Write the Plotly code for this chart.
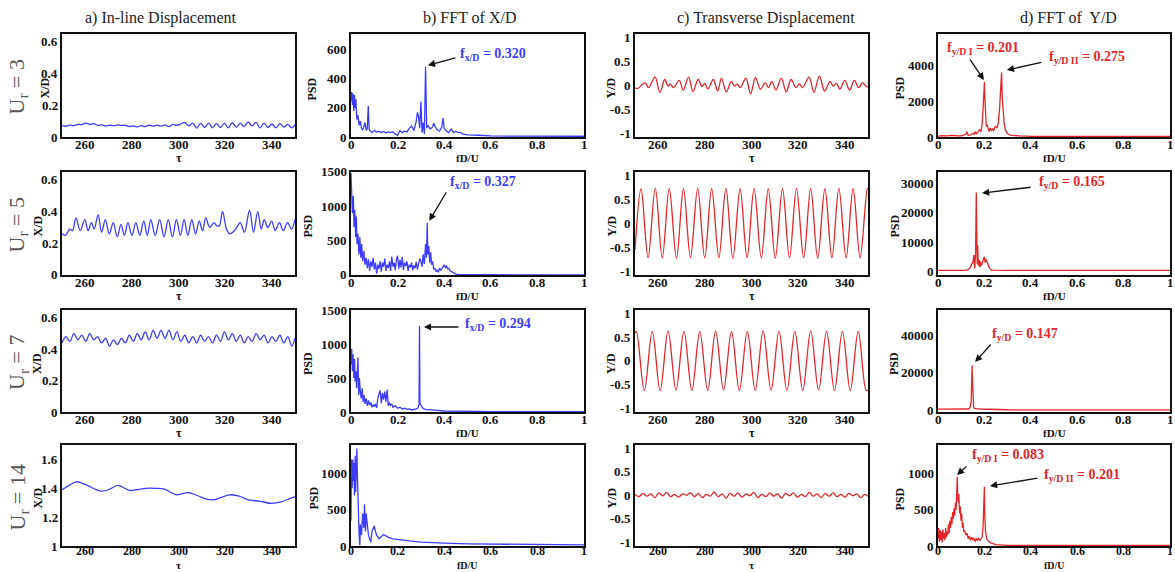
import plotly.graph_objects as go

# ---------------- data ----------------
tau_half = [250, 251.7, 253.4, 255.1, 256.8, 258.5, 260.2, 261.9, 263.6, 265.3,
            267.0, 268.7, 270.4, 272.1, 273.8, 275.5, 277.2, 278.9, 280.6, 282.3,
            284.0, 285.7, 287.4, 289.1, 290.8, 292.5, 294.2, 295.9, 297.6, 299.3,
            301.0, 302.7, 304.4, 306.1, 307.8, 309.5, 311.2, 312.9, 314.6, 316.3,
            318.0, 319.7, 321.4, 323.1, 324.8, 326.5, 328.2, 329.9, 331.6, 333.3,
            335.0, 336.7, 338.4, 340.1, 341.8, 343.5, 345.2, 346.9, 348.6, 350.0]

xd_ur3 = [0.072, 0.068, 0.075, 0.072, 0.080, 0.078, 0.088, 0.080, 0.084, 0.074,
          0.077, 0.070, 0.074, 0.072, 0.076, 0.073, 0.074, 0.066, 0.070, 0.064,
          0.072, 0.066, 0.074, 0.068, 0.075, 0.068, 0.077, 0.066, 0.080, 0.074,
          0.082, 0.092, 0.070, 0.088, 0.056, 0.086, 0.060, 0.088, 0.058, 0.084,
          0.060, 0.088, 0.058, 0.090, 0.062, 0.086, 0.066, 0.096, 0.070, 0.092,
          0.058, 0.088, 0.060, 0.082, 0.058, 0.084, 0.062, 0.078, 0.058, 0.078]

tau_x5 = [250, 251.5, 253.3, 254.5, 256.0, 257.8, 259.8, 261.2, 262.6, 263.8,
          265.5, 267.0, 268.6, 270.3, 272.0, 273.7, 275.3, 276.8, 278.3, 280.0,
          281.7, 283.4, 285.1, 286.6, 288.1, 290.0, 291.9, 293.8, 295.6, 297.4,
          299.1, 300.8, 302.4, 304.0, 305.7, 307.3, 308.9, 310.3, 311.7, 313.4,
          315.2, 316.5, 317.5, 318.9, 320.6, 322.0, 324.0, 325.0, 326.5, 328.3,
          330.5, 332.2, 334.0, 335.5, 336.8, 338.3, 340.0, 341.5, 343.3, 345.0,
          346.8, 348.5, 350]
xd_ur5 = [0.26, 0.25, 0.29, 0.28, 0.36, 0.28, 0.35, 0.28, 0.33, 0.29,
          0.38, 0.27, 0.35, 0.26, 0.33, 0.24, 0.32, 0.25, 0.33, 0.25,
          0.33, 0.25, 0.34, 0.25, 0.35, 0.25, 0.35, 0.24, 0.35, 0.24,
          0.35, 0.25, 0.35, 0.25, 0.35, 0.26, 0.34, 0.28, 0.36, 0.30,
          0.33, 0.31, 0.31, 0.40, 0.29, 0.26, 0.28, 0.30, 0.33, 0.27,
          0.41, 0.27, 0.40, 0.29, 0.35, 0.30, 0.34, 0.28, 0.33, 0.28,
          0.33, 0.29, 0.35]

xd_ur7 = [0.44, 0.48, 0.45, 0.50, 0.46, 0.49, 0.45, 0.50, 0.46, 0.48,
          0.44, 0.47, 0.42, 0.46, 0.43, 0.47, 0.44, 0.49, 0.45, 0.50,
          0.46, 0.51, 0.46, 0.52, 0.47, 0.52, 0.47, 0.52, 0.46, 0.51,
          0.45, 0.49, 0.44, 0.48, 0.44, 0.49, 0.45, 0.48, 0.44, 0.49,
          0.45, 0.51, 0.46, 0.50, 0.45, 0.49, 0.44, 0.48, 0.45, 0.50,
          0.46, 0.49, 0.44, 0.48, 0.45, 0.49, 0.44, 0.48, 0.42, 0.47]

tau_x14 = [250, 253, 256, 258, 261, 264, 267, 270, 274, 277, 279, 282, 286, 290, 294,
           299, 304, 308, 312, 315, 318, 322, 326, 330, 335, 340, 344, 348, 350]
xd_ur14 = [1.39, 1.42, 1.445, 1.44, 1.42, 1.395, 1.38, 1.39, 1.42, 1.40, 1.385, 1.39, 1.40, 1.40, 1.395,
           1.355, 1.37, 1.35, 1.325, 1.32, 1.335, 1.355, 1.345, 1.32, 1.31, 1.295, 1.305, 1.33, 1.34]

tau_y3 = [250, 251, 254.4, 255.8, 258.6, 260.7, 262.8, 264.2, 265.1, 266.5,
          269, 270.7, 273, 274.9, 277.1, 278.8, 279.9, 281.3, 283.6, 285.5,
          287.1, 289.2, 291.3, 292.7, 293.8, 295.2, 297.6, 299.6, 301.7, 303.8,
          305.9, 307.3, 308.7, 310.5, 312.8, 314.9, 317, 319.1, 320.5, 321.9,
          324.7, 326.8, 329.1, 331.4, 333.7, 335.1, 336.5, 337.9, 340, 342.1,
          344.1, 346, 347.6, 349.4, 350]
yd_ur3 = [-0.05, -0.07, 0.05, -0.05, 0.17, -0.15, 0.12, -0.02, 0.03, -0.05,
          0.1, -0.1, 0.17, -0.13, 0.12, -0.03, 0.04, -0.08, 0.12, -0.12,
          0.15, -0.14, 0.08, -0.02, 0.03, -0.05, 0.15, -0.18, 0.16, -0.08,
          0.05, -0.05, 0.08, -0.1, 0.15, -0.14, 0.12, -0.05, 0.03, -0.05,
          0.17, -0.15, 0.19, -0.12, 0.08, -0.02, 0.04, -0.08, 0.1, -0.1,
          0.1, -0.05, 0.05, -0.03, -0.04]

tau_y5 = [250, 252.6, 255.6, 258.7, 261.7, 264.7, 267.8, 270.8, 273.8, 276.9,
          279.9, 282.9, 286.0, 289.0, 292.0, 295.1, 298.1, 301.1, 304.2, 307.2,
          310.2, 313.3, 316.3, 319.3, 322.4, 325.4, 328.4, 331.5, 334.5, 337.5,
          340.6, 343.6, 346.6, 349.7, 350]
yd_ur5 = [-0.55, 0.72, -0.72, 0.73, -0.72, 0.72, -0.73, 0.72, -0.72, 0.73,
          -0.72, 0.72, -0.72, 0.73, -0.73, 0.72, -0.72, 0.73, -0.72, 0.72,
          -0.73, 0.72, -0.72, 0.73, -0.72, 0.72, -0.73, 0.72, -0.72, 0.73,
          -0.72, 0.72, -0.72, 0.72, 0.70]

tau_y7 = [250, 250.6, 254.0, 257.4, 260.8, 264.2, 267.6, 271.0, 274.4, 277.8,
          281.2, 284.6, 288.0, 291.4, 294.8, 298.2, 301.6, 305.0, 308.4, 311.8,
          315.2, 318.6, 322.0, 325.4, 328.8, 332.2, 335.6, 339.0, 342.4, 345.8,
          349.2, 350]
yd_ur7 = [0.58, 0.62, -0.63, 0.62, -0.63, 0.63, -0.62, 0.62, -0.63, 0.62,
          -0.63, 0.63, -0.62, 0.62, -0.63, 0.62, -0.63, 0.63, -0.62, 0.62,
          -0.63, 0.62, -0.63, 0.63, -0.62, 0.62, -0.63, 0.62, -0.63, 0.62,
          -0.63, -0.61]

yd_ur14 = [0.02, -0.03, 0.04, -0.02, 0.03, -0.05, 0.05, -0.01, 0.06, -0.03,
           0.02, -0.04, 0.03, 0.00, 0.05, -0.03, 0.04, -0.05, 0.02, -0.02,
           0.07, -0.03, 0.03, -0.06, 0.04, -0.02, 0.05, -0.04, 0.03, -0.01,
           0.06, -0.05, 0.02, -0.03, 0.05, -0.02, 0.03, -0.06, 0.04, -0.01,
           0.05, -0.04, 0.02, -0.03, 0.06, -0.02, 0.03, -0.05, 0.04, -0.02,
           0.05, -0.03, 0.02, -0.04, 0.04, -0.01, 0.03, -0.05, 0.02, -0.02]

# FFT spectra
f_x3 = [0, 0.003, 0.006, 0.009, 0.012, 0.015, 0.018, 0.021, 0.025, 0.03,
        0.035, 0.04, 0.045, 0.05, 0.055, 0.06, 0.065, 0.07, 0.074, 0.078,
        0.085, 0.09, 0.1, 0.11, 0.12, 0.13, 0.14, 0.15, 0.16, 0.17,
        0.18, 0.19, 0.2, 0.21, 0.22, 0.23, 0.24, 0.25, 0.26, 0.27,
        0.28, 0.285, 0.29, 0.295, 0.3, 0.305, 0.31, 0.315, 0.32, 0.325,
        0.33, 0.34, 0.35, 0.355, 0.36, 0.37, 0.38, 0.39, 0.395, 0.4,
        0.41, 0.42, 0.43, 0.44, 0.45, 0.46, 0.47, 0.48, 0.5, 0.55,
        0.6, 0.7, 0.8, 0.9, 1.0]
psd_x3 = [250, 310, 220, 300, 180, 290, 200, 260, 120, 150,
          80, 110, 60, 50, 70, 100, 45, 60, 215, 50,
          40, 30, 45, 35, 40, 30, 38, 28, 35, 30,
          35, 25, 10, 45, 30, 40, 35, 60, 75, 45,
          110, 170, 140, 60, 245, 30, 100, 20, 485, 60,
          80, 55, 70, 95, 75, 50, 40, 70, 130, 60,
          40, 30, 55, 30, 40, 30, 32, 20, 15, 12,
          8, 6, 5, 5, 5]

f_x5 = [0, 0.003, 0.006, 0.01, 0.013, 0.016, 0.02, 0.023, 0.026, 0.03,
        0.034, 0.038, 0.042, 0.046, 0.05, 0.055, 0.06, 0.065, 0.07, 0.075,
        0.08, 0.085, 0.09, 0.095, 0.1, 0.105, 0.11, 0.115, 0.12, 0.125,
        0.13, 0.135, 0.14, 0.145, 0.15, 0.155, 0.16, 0.165, 0.17, 0.175,
        0.18, 0.185, 0.19, 0.195, 0.2, 0.205, 0.21, 0.215, 0.22, 0.225,
        0.23, 0.235, 0.24, 0.245, 0.25, 0.255, 0.26, 0.265, 0.27, 0.275,
        0.28, 0.285, 0.29, 0.295, 0.3, 0.305, 0.31, 0.315, 0.32, 0.324,
        0.327, 0.33, 0.334, 0.338, 0.342, 0.346, 0.35, 0.355, 0.36, 0.365,
        0.37, 0.375, 0.38, 0.385, 0.39, 0.395, 0.4, 0.405, 0.41, 0.415,
        0.42, 0.425, 0.43, 0.435, 0.44, 0.445, 0.45, 0.46, 0.48, 0.5,
        0.55, 0.6, 0.7, 0.8, 0.9, 1.0]
psd_x5 = [1480, 1280, 900, 1150, 700, 950, 550, 850, 450, 600,
          300, 550, 250, 450, 200, 350, 150, 250, 100, 230,
          60, 200, 120, 250, 80, 180, 20, 150, 90, 200,
          50, 180, 120, 240, 60, 150, 100, 200, 60, 270,
          120, 180, 70, 230, 280, 90, 220, 110, 260, 70,
          180, 130, 200, 60, 150, 110, 180, 70, 140, 100,
          190, 80, 150, 240, 200, 120, 300, 160, 450, 250,
          760, 300, 420, 180, 330, 150, 200, 80, 100, 50,
          70, 40, 100, 70, 90, 120, 150, 110, 130, 90,
          100, 60, 50, 35, 30, 20, 12, 8, 6, 5,
          4, 4, 3, 3, 3, 3]

f_x7 = [0, 0.003, 0.006, 0.009, 0.012, 0.015, 0.018, 0.021, 0.024, 0.027,
        0.03, 0.033, 0.036, 0.04, 0.044, 0.048, 0.052, 0.056, 0.06, 0.065,
        0.07, 0.075, 0.08, 0.085, 0.09, 0.095, 0.1, 0.105, 0.11, 0.115,
        0.12, 0.125, 0.13, 0.135, 0.14, 0.145, 0.15, 0.155, 0.16, 0.165,
        0.17, 0.175, 0.18, 0.19, 0.2, 0.21, 0.22, 0.23, 0.24, 0.25,
        0.26, 0.27, 0.28, 0.288, 0.292, 0.294, 0.296, 0.3, 0.305, 0.31,
        0.32, 0.33, 0.35, 0.37, 0.4, 0.45, 0.5, 0.6, 0.8, 1.0]
psd_x7 = [700, 930, 600, 850, 500, 780, 450, 600, 350, 500,
          800, 250, 500, 300, 200, 350, 150, 250, 120, 200,
          90, 170, 100, 140, 70, 110, 80, 120, 60, 200,
          250, 320, 130, 280, 180, 300, 150, 330, 90, 140,
          100, 120, 70, 90, 55, 70, 45, 55, 40, 45,
          30, 35, 45, 60, 120, 1270, 120, 100, 70, 50,
          40, 35, 25, 25, 15, 12, 10, 6, 5, 5]

f_x14 = [0, 0.002, 0.005, 0.008, 0.01, 0.012, 0.015, 0.018, 0.02, 0.022,
         0.025, 0.028, 0.03, 0.032, 0.035, 0.038, 0.04, 0.045, 0.05, 0.055,
         0.058, 0.062, 0.065, 0.07, 0.075, 0.08, 0.085, 0.09, 0.095, 0.1,
         0.105, 0.11, 0.12, 0.13, 0.14, 0.15, 0.16, 0.18, 0.2, 0.25,
         0.3, 0.35, 0.4, 0.5, 0.6, 0.7, 0.8, 1.0]
psd_x14 = [350, 1200, 800, 1200, 900, 1150, 700, 1250, 750, 1150,
           1350, 900, 600, 400, 150, 10, 300, 150, 450, 250,
           580, 200, 450, 300, 150, 100, 50, 200, 250, 280,
           200, 150, 100, 130, 160, 140, 120, 100, 90, 70,
           55, 45, 40, 30, 25, 20, 18, 15]

f_y3 = [0, 0.02, 0.04, 0.06, 0.08, 0.1, 0.11, 0.12, 0.125, 0.13,
        0.14, 0.15, 0.155, 0.16, 0.165, 0.17, 0.175, 0.18, 0.185, 0.19,
        0.194, 0.197, 0.2, 0.202, 0.205, 0.208, 0.212, 0.216, 0.22, 0.225,
        0.23, 0.235, 0.24, 0.245, 0.25, 0.255, 0.26, 0.265, 0.27, 0.274,
        0.277, 0.28, 0.285, 0.29, 0.295, 0.3, 0.31, 0.32, 0.35, 0.4,
        0.5, 0.6, 0.8, 1.0]
psd_y3 = [50, 80, 60, 90, 70, 60, 100, 150, 290, 100,
          120, 200, 150, 300, 180, 250, 350, 400, 300, 700,
          1500, 2500, 3100, 2200, 1400, 600, 700, 400, 300, 500,
          350, 450, 350, 550, 600, 500, 800, 1500, 2500, 3650,
          2200, 1500, 800, 400, 300, 200, 100, 80, 60, 40,
          30, 30, 30, 30]

f_y5 = [0, 0.05, 0.1, 0.12, 0.13, 0.135, 0.14, 0.145, 0.15, 0.153,
        0.155, 0.158, 0.16, 0.162, 0.165, 0.167, 0.169, 0.171, 0.174, 0.177,
        0.18, 0.183, 0.186, 0.19, 0.193, 0.196, 0.2, 0.203, 0.206, 0.21,
        0.215, 0.22, 0.225, 0.23, 0.24, 0.25, 0.3, 0.4, 0.6, 1.0]
psd_y5 = [400, 350, 300, 400, 600, 1000, 1500, 2500, 3000, 4500,
          5600, 1000, 3500, 6000, 27000, 11000, 2500, 9000, 2000, 4000,
          1500, 3500, 2000, 2500, 3800, 4500, 5000, 3000, 4300, 3500,
          2000, 1500, 800, 500, 450, 400, 350, 350, 350, 350]

f_y7 = [0, 0.05, 0.1, 0.12, 0.13, 0.135, 0.14, 0.143, 0.145, 0.147,
        0.149, 0.151, 0.154, 0.157, 0.16, 0.17, 0.18, 0.2, 0.25, 0.3,
        0.4, 0.6, 0.8, 1.0]
psd_y7 = [500, 450, 400, 500, 600, 900, 2000, 5000, 12000, 24000,
          14000, 5000, 1500, 900, 800, 700, 600, 500, 300, 200,
          150, 150, 150, 150]

f_y14 = [0, 0.003, 0.006, 0.009, 0.012, 0.015, 0.018, 0.021, 0.024, 0.027,
         0.03, 0.033, 0.036, 0.039, 0.042, 0.045, 0.048, 0.051, 0.054, 0.057,
         0.06, 0.063, 0.066, 0.069, 0.072, 0.075, 0.078, 0.081, 0.083, 0.085,
         0.088, 0.09, 0.093, 0.096, 0.099, 0.102, 0.105, 0.108, 0.111, 0.115,
         0.12, 0.125, 0.13, 0.135, 0.14, 0.145, 0.15, 0.155, 0.16, 0.165,
         0.17, 0.175, 0.18, 0.185, 0.19, 0.194, 0.197, 0.2, 0.202, 0.205,
         0.21, 0.22, 0.23, 0.25, 0.3, 0.4, 0.6, 0.8, 1.0]
psd_y14 = [100, 250, 60, 220, 80, 200, 50, 230, 100, 180,
           80, 250, 120, 200, 150, 300, 180, 350, 250, 400,
           300, 470, 380, 520, 420, 600, 500, 700, 960, 650,
           600, 720, 450, 550, 350, 450, 250, 320, 200, 220,
           150, 180, 100, 140, 80, 120, 90, 110, 60, 100,
           80, 110, 70, 100, 120, 250, 500, 820, 400, 200,
           100, 60, 40, 20, 10, 10, 10, 10, 10]

row_labels = ["3", "5", "7", "14"]
col_titles = ["a) In-line Displacement", "b) FFT of X/D", "c) Transverse Displacement", "d) FFT of  Y/D"]

tick_tau = [260, 280, 300, 320, 340]
tick_tau_txt = ["260", "280", "300", "320", "340"]
tick_f = [0, 0.2, 0.4, 0.6, 0.8, 1]
tick_f_txt = ["0", "0.2", "0.4", "0.6", "0.8", "1"]

# ---------------- layout geometry ----------------
W, H = 1175, 572
col_px = [(62, 295), (351, 584), (635, 868), (938, 1170)]
row_px = [(34, 137), (172, 275), (310, 412), (445, 546)]
xtick_gap = [7, 7, 7, 5]
xtick_size = [13, 13, 13, 12]
BLUE = "#3c3cff"
RED = "#e3262b"
SERIF = "Liberation Serif"

def px(x):
    return x / W

def py(y):
    return 1 - y / H

fig = go.Figure()

series = [
    [(tau_half, xd_ur3, BLUE, "spline"), (f_x3, psd_x3, BLUE, "linear"),
     (tau_y3, yd_ur3, RED, "spline"), (f_y3, psd_y3, RED, "linear")],
    [(tau_x5, xd_ur5, BLUE, "spline"), (f_x5, psd_x5, BLUE, "linear"),
     (tau_y5, yd_ur5, RED, "spline"), (f_y5, psd_y5, RED, "linear")],
    [(tau_half, xd_ur7, BLUE, "spline"), (f_x7, psd_x7, BLUE, "linear"),
     (tau_y7, yd_ur7, RED, "spline"), (f_y7, psd_y7, RED, "linear")],
    [(tau_x14, xd_ur14, BLUE, "spline"), (f_x14, psd_x14, BLUE, "linear"),
     (tau_half, yd_ur14, RED, "spline"), (f_y14, psd_y14, RED, "linear")],
]

ycfg = [
    [([0, 0.65], [0, 0.2, 0.4, 0.6], ["0", "0.2", "0.4", "0.6"]),
     ([0, 710], [0, 200, 400, 600], ["0", "200", "400", "600"]),
     ([-1.08, 1.07], [-1, -0.5, 0, 0.5, 1], ["-1", "-0.5", "0", "0.5", "1"]),
     ([0, 5800], [0, 2000, 4000], ["0", "2000", "4000"])],
    [([0, 0.65], [0, 0.2, 0.4, 0.6], ["0", "0.2", "0.4", "0.6"]),
     ([0, 1500], [0, 500, 1000, 1500], ["0", "500", "1000", "1500"]),
     ([-1.08, 1.07], [-1, -0.5, 0, 0.5, 1], ["-1", "-0.5", "0", "0.5", "1"]),
     ([-1200, 34000], [0, 10000, 20000, 30000], ["0", "10000", "20000", "30000"])],
    [([0, 0.65], [0, 0.2, 0.4, 0.6], ["0", "0.2", "0.4", "0.6"]),
     ([0, 1500], [0, 500, 1000, 1500], ["0", "500", "1000", "1500"]),
     ([-1.08, 1.07], [-1, -0.5, 0, 0.5, 1], ["-1", "-0.5", "0", "0.5", "1"]),
     ([-1000, 53500], [0, 20000, 40000], ["0", "20000", "40000"])],
    [([1, 1.7], [1, 1.2, 1.4, 1.6], ["1", "1.2", "1.4", "1.6"]),
     ([0, 1400], [0, 500, 1000], ["0", "500", "1000"]),
     ([-1.08, 1.07], [-1, -0.5, 0, 0.5, 1], ["-1", "-0.5", "0", "0.5", "1"]),
     ([0, 1400], [0, 500, 1000], ["0", "500", "1000"])],
]
ytitles = ["X/D", "PSD", "Y/D", "PSD"]
xtitles = ["\u03c4", "fD/U", "\u03c4", "fD/U"]
ytitle_x = [[45, 312, 611, 900],
            [37, 307, 611, 894],
            [37, 308, 611, 894],
            [37, 313, 611, 899]]

annotations = []

for r in range(4):
    for c in range(4):
        n = r * 4 + c + 1
        sfx = "" if n == 1 else str(n)
        xs, ys, color, shape = series[r][c]
        fig.add_trace(go.Scatter(x=xs, y=ys, mode="lines",
                                 line=dict(color=color, width=1.3, shape=shape),
                                 xaxis="x" + sfx, yaxis="y" + sfx, showlegend=False,
                                 hoverinfo="skip"))
        x0, x1 = col_px[c]
        y0, y1 = row_px[r]
        if c in (0, 2):
            xr, xtv, xtt = [250, 350], tick_tau, tick_tau_txt
        else:
            xr, xtv, xtt = [0, 1], tick_f, tick_f_txt
        yr, ytv, ytt = ycfg[r][c]
        common = dict(showline=True, mirror=True, linecolor="#111", linewidth=1.5,
                      showgrid=False, zeroline=False, ticks="", showticklabels=False,
                      fixedrange=True)
        fig.layout["xaxis" + sfx] = dict(domain=[px(x0), px(x1)], range=xr,
                                         tickvals=xtv, anchor="y" + sfx, **common)
        fig.layout["yaxis" + sfx] = dict(domain=[py(y1), py(y0)], range=yr,
                                         tickvals=ytv, anchor="x" + sfx, **common)
        # bold tick labels placed on the axes' own scales
        for v, t in zip(xtv, xtt):
            annotations.append(dict(xref="x" + sfx, yref="paper", x=v,
                                    y=py(y1 + xtick_gap[r]),
                                    text="<b>%s</b>" % t, showarrow=False,
                                    font=dict(family=SERIF, size=xtick_size[r], color="#111"),
                                    borderpad=0, xanchor="center", yanchor="middle"))
        for v, t in zip(ytv, ytt):
            annotations.append(dict(xref="paper", yref="y" + sfx, x=px(x0 - 3), y=v,
                                    text="<b>%s</b>" % t, showarrow=False,
                                    font=dict(family=SERIF, size=13, color="#111"),
                                    borderpad=0, xanchor="right", yanchor="middle"))
        # axis titles
        annotations.append(dict(xref="paper", yref="paper", x=px(ytitle_x[r][c]),
                                y=py((y0 + y1) / 2 + 3), text="<b>%s</b>" % ytitles[c],
                                textangle=-90, showarrow=False, borderpad=0,
                                font=dict(family=SERIF, size=12, color="#111"),
                                xanchor="center", yanchor="middle"))
        if r < 3:
            xt = dict(y=py(y1 + 21), yanchor="middle",
                      size=12 if c in (0, 2) else 11)
        else:
            xt = dict(y=0, yanchor="bottom", size=11 if c in (0, 2) else 10)
        annotations.append(dict(xref="paper", yref="paper", x=px((x0 + x1) / 2),
                                y=xt["y"], text="<b>%s</b>" % xtitles[c],
                                showarrow=False, borderpad=0,
                                font=dict(family=SERIF, size=xt["size"], color="#111"),
                                xanchor="center", yanchor=xt["yanchor"]))
    y0, y1 = row_px[r]
    annotations.append(dict(xref="paper", yref="paper", x=px(18), y=py((y0 + y1) / 2 + 2),
                            text="U<sub>r</sub> = " + row_labels[r], textangle=-90,
                            showarrow=False, font=dict(family=SERIF, size=22, color="#555"),
                            xanchor="center", yanchor="middle"))

title_cx = [161, 470, 766, 1068]
for c in range(4):
    annotations.append(dict(xref="paper", yref="paper", x=px(title_cx[c]), y=py(18),
                            text=col_titles[c], showarrow=False,
                            font=dict(family=SERIF, size=16, color="#222"),
                            xanchor="center", yanchor="middle"))

# peak annotations: (axis suffix, head x, head y, ax, ay, text x, text y, text, colour)
peaks = [
    ("2", 0.33, 494, 29, -8, 0.459, 571, "f<sub>x/D</sub> = 0.320", BLUE),
    ("6", 0.336, 790, 18, -30, 0.416, 1340, "f<sub>x/D</sub> = 0.327", BLUE),
    ("10", 0.313, 1250, 36, 0, 0.48, 1280, "f<sub>x/D</sub> = 0.294", BLUE),
    ("4", 0.198, 3210, -15, -22, 0.03, 5010, "f<sub>y/D I</sub> = 0.201", RED),
    ("4", 0.297, 3770, 36, -8, 0.47, 4500, "f<sub>y/D II</sub> = 0.275", RED),
    ("8", 0.19, 26800, 50, -6, 0.427, 30240, "f<sub>y/D</sub> = 0.165", RED),
    ("12", 0.16, 25700, 17, -19, 0.224, 40676, "f<sub>y/D</sub> = 0.147", RED),
    ("16", 0.082, 984, 11, -10, 0.138, 1261, "f<sub>y/D I</sub> = 0.083", RED),
    ("16", 0.224, 832, 49, -8, 0.448, 984, "f<sub>y/D II</sub> = 0.201", RED),
]
for sfx, hx, hy, ax, ay, tx, ty, txt, col in peaks:
    annotations.append(dict(xref="x" + sfx, yref="y" + sfx, x=hx, y=hy, ax=ax, ay=ay,
                            text="", showarrow=True, arrowhead=2, arrowsize=1.1,
                            arrowwidth=1.3, arrowcolor="#111", standoff=0))
    annotations.append(dict(xref="x" + sfx, yref="y" + sfx, x=tx, y=ty,
                            text="<b>%s</b>" % txt, showarrow=False,
                            font=dict(family=SERIF, size=14, color=col),
                            xanchor="left", yanchor="middle"))

fig.update_layout(width=W, height=H, margin=dict(l=0, r=0, t=0, b=0),
                  paper_bgcolor="white", plot_bgcolor="white",
                  annotations=annotations, showlegend=False)

fig.write_html("out.html")
